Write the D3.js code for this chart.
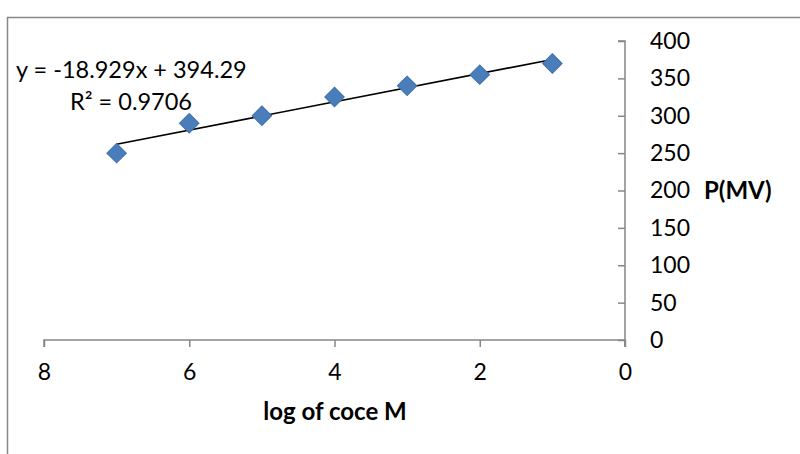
<!DOCTYPE html>
<html>
<head>
<meta charset="utf-8">
<script src="https://cdn.jsdelivr.net/npm/d3@7"></script>
<style>
  body { margin: 0; background: #fff; }
  svg { display: block; font-family: Lato, "Open Sans", sans-serif; }
</style>
</head>
<body>
<svg width="800" height="454"></svg>
<script>
// data
const logConc = [7, 6, 5, 4, 3, 2, 1];
const potential = [250, 290, 300, 325, 340, 355, 370];
const xTicks = [8, 6, 4, 2, 0];
const yTicks = [0, 50, 100, 150, 200, 250, 300, 350, 400];
const slope = -18.929, intercept = 394.29;

const svg = d3.select("svg");
const axisColor = "#878787";
const font = "Lato, 'Open Sans', sans-serif";

// chart frame (only left and top edges visible)
svg.append("path")
  .attr("d", "M7.5,454 V17.5 H800")
  .attr("fill", "none")
  .attr("stroke", axisColor)
  .attr("stroke-width", 1.5);

const x = d3.scaleLinear().domain([8, 0]).range([44, 625]);
const y = d3.scaleLinear().domain([0, 400]).range([340, 41]);

// x axis
const xAxis = svg.append("g")
  .attr("transform", `translate(0,${y(0)})`)
  .call(d3.axisBottom(x).tickValues(xTicks).tickSize(7).tickPadding(17).tickFormat(d3.format("d")));
xAxis.select(".domain").attr("stroke", axisColor).attr("stroke-width", 1.5)
  .attr("d", `M${x(8)},7V0H${x(0)}V7`);
xAxis.selectAll(".tick line").attr("stroke", axisColor).attr("stroke-width", 1.5);
xAxis.selectAll(".tick text").attr("fill", "#000").style("font-size", "23px")
  .style("font-family", font);

// y axis at x = 0 (right side)
const yAxis = svg.append("g")
  .attr("transform", `translate(${x(0)},0)`)
  .call(d3.axisLeft(y).tickValues(yTicks).tickSize(7).tickFormat(d3.format("d")));
yAxis.select(".domain").attr("stroke", axisColor).attr("stroke-width", 1.5)
  .attr("d", `M-7,${y(400)}H0V${y(0) + 7}`);
yAxis.selectAll(".tick line").attr("stroke", axisColor).attr("stroke-width", 1.5);
yAxis.selectAll(".tick text")
  .attr("fill", "#000")
  .attr("x", 25)
  .attr("text-anchor", "start")
  .style("font-size", "23px")
  .style("font-family", font);

// trendline
svg.append("line")
  .attr("x1", x(d3.max(logConc))).attr("y1", y(slope * d3.max(logConc) + intercept))
  .attr("x2", x(d3.min(logConc))).attr("y2", y(slope * d3.min(logConc) + intercept))
  .attr("stroke", "#000").attr("stroke-width", 1.6);

// diamond markers
const diamond = d3.symbol().type(d3.symbolSquare).size(190);
svg.selectAll(".pt")
  .data(logConc.map((v, i) => [v, potential[i]]))
  .enter().append("path")
  .attr("class", "pt")
  .attr("d", diamond)
  .attr("transform", d => `translate(${x(d[0])},${y(d[1])}) rotate(45)`)
  .attr("fill", "#4a7ebb")
  .attr("stroke", "#3f6fa8")
  .attr("stroke-width", 1);

// equation labels
svg.append("text").attr("x", 16).attr("y", 78)
  .style("font-size", "23.5px").text("y = -18.929x + 394.29");
const r2 = svg.append("text").attr("x", 70).attr("y", 110).style("font-size", "23.5px");
r2.append("tspan").text("R");
r2.append("tspan").text("²");
r2.append("tspan").text(" = 0.9706");

// axis titles
svg.append("text").attr("x", 704).attr("y", 199)
  .style("font-size", "24px").style("font-weight", "bold").text("P(MV)");
svg.append("text").attr("x", 335).attr("y", 420).attr("text-anchor", "middle")
  .style("font-size", "24px").style("font-weight", "bold").text("log of coce M");
</script>
</body>
</html>
